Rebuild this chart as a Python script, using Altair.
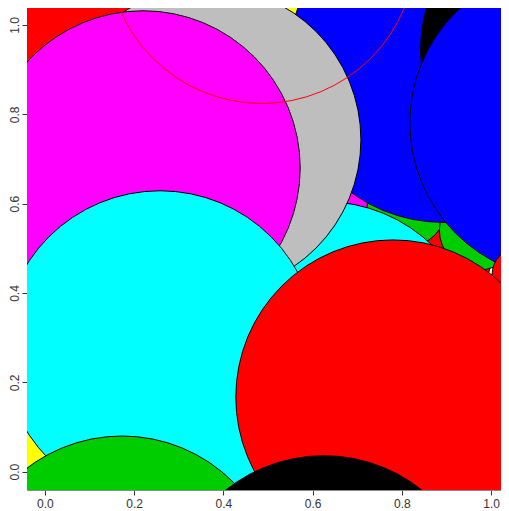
import math
import altair as alt
import pandas as pd

# circle centres (data units), radii (data units) and fill colour names, in drawing order
cx = [0.034, 0.572, -0.325, 0.740, 0.908, 0.811, 0.973, 0.625, 0.892, 1.192,
      1.168, 0.365, 0.220, 0.258, 0.173, 1.065, 1.154, 0.780, 0.625]
cy = [1.146, 1.325, 0.071, 0.642, 0.469, 0.593, 0.541, 0.255, 0.908, 0.944,
      0.781, 0.743, 0.680, 0.277, -0.272, 0.440, 0.317, 0.167, -0.316]
rad = [0.350, 0.350, 0.350, 0.090, 0.090, 0.089, 0.089, 0.350, 0.350, 0.350,
       0.350, 0.343, 0.352, 0.352, 0.352, 0.063, 0.148, 0.352, 0.352]
fill = ["red", "yellow", "yellow", "magenta", "red", "green3", "green3", "cyan", "blue", "black",
        "blue", "gray", "magenta", "cyan", "green3", "red", "black", "red", "black"]

# the unfilled red-outlined circle
ox = [0.486]
oy = [1.170]
orad = [0.345]

palette_names = ["black", "red", "green3", "blue", "cyan", "magenta", "yellow", "gray"]
palette_hex = ["#000000", "#FF0000", "#00CD00", "#0000FF", "#00FFFF", "#FF00FF", "#FFFF00", "#BEBEBE"]

tick_vals = [0.0, 0.2, 0.4, 0.6, 0.8, 1.0]

df = pd.DataFrame({"x": cx, "y": cy, "r": rad, "fill": fill, "k": list(range(len(cx)))})
dfo = pd.DataFrame({"x": ox, "y": oy, "r": orad})

PX = 446.5
W = 474
xscale = alt.Scale(domain=[-0.04, -0.04 + W / 446.3], nice=False, zero=False)
yscale = alt.Scale(domain=[-0.041, 1.038], nice=False, zero=False)
# Vega circle symbol: radius = sqrt(size) / 2  ->  size = (2 * radius_px)^2
sscale = alt.Scale(type="pow", exponent=2, domain=[0, 1], range=[0, (2 * PX) ** 2])

font = "Liberation Sans"
xaxis = alt.Axis(values=tick_vals, format=".1f", title=None, grid=False, tickSize=5,
                 labelPadding=3, labelFontSize=12, labelFont=font, labelColor="#333333",
                 tickColor="#333333", domainColor="#888888", labelFlush=False)
yaxis = alt.Axis(values=tick_vals, format=".1f", title=None, grid=False, tickSize=5,
                 labelPadding=4, labelFontSize=12, labelFont=font, labelColor="#333333",
                 tickColor="#333333", domainColor="#888888", labelAngle=270,
                 labelAlign="center", labelBaseline="alphabetic", labelFlush=False)

filled = alt.Chart(df).mark_point(shape="circle", filled=True, opacity=1, stroke="black",
                                  strokeWidth=1, clip=True).encode(
    x=alt.X("x:Q", scale=xscale, axis=xaxis),
    y=alt.Y("y:Q", scale=yscale, axis=yaxis),
    size=alt.Size("r:Q", scale=sscale, legend=None),
    fill=alt.Fill("fill:N", scale=alt.Scale(domain=palette_names, range=palette_hex), legend=None),
    order=alt.Order("k:Q"),
)

outline = alt.Chart(dfo).mark_point(shape="circle", filled=False, opacity=1, color="#FF0000",
                                    strokeWidth=1, clip=True).encode(
    x=alt.X("x:Q", scale=xscale),
    y=alt.Y("y:Q", scale=yscale),
    size=alt.Size("r:Q", scale=sscale, legend=None),
)

chart = alt.layer(filled, outline).properties(
    width=W, height=482,
    autosize=alt.AutoSizeParams(type="none"),
    padding={"left": 19, "top": 0, "right": 0, "bottom": 20},
).configure_view(strokeWidth=0)

chart.save("out.html", embed_options={"renderer": "svg", "actions": False})
